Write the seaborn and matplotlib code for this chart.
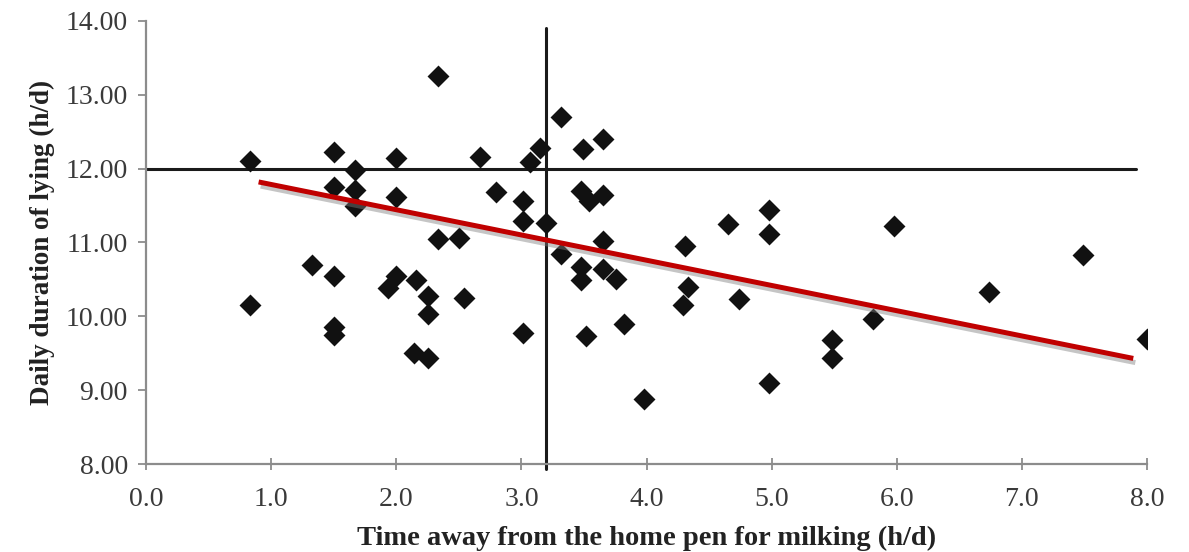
import numpy as np
import pandas as pd
import matplotlib
matplotlib.use("Agg")
import matplotlib.pyplot as plt
import matplotlib.patheffects as pe
from matplotlib.ticker import FormatStrFormatter
import seaborn as sns

# data
time_away = [0.83, 0.83, 1.33, 1.50, 1.50, 1.50, 1.50, 1.50, 1.67, 1.67,
             1.67, 1.93, 2.00, 2.00, 2.00, 2.16, 2.14, 2.25, 2.25, 2.25,
             2.33, 2.33, 2.50, 2.54, 2.67, 2.80, 3.01, 3.01, 3.01, 3.07,
             3.15, 3.20, 3.32, 3.32, 3.49, 3.48, 3.54, 3.65, 3.65, 3.65,
             3.48, 3.48, 3.65, 3.76, 3.52, 3.82, 3.98, 4.31, 4.33, 4.29,
             4.65, 4.74, 4.98, 4.98, 4.98, 5.48, 5.48, 5.81, 5.98, 6.74,
             7.49, 8.00]
lying = [12.10, 10.16, 10.70, 12.23, 11.75, 10.54, 9.86, 9.75, 11.98, 11.71,
         11.49, 10.38, 12.15, 11.61, 10.54, 10.49, 9.50, 10.27, 10.03, 9.43,
         13.26, 11.05, 11.06, 10.25, 12.16, 11.68, 11.56, 11.29, 9.78, 12.09,
         12.28, 11.26, 12.70, 10.85, 12.27, 11.70, 11.56, 11.64, 12.40, 11.02,
         10.67, 10.49, 10.64, 10.51, 9.73, 9.89, 8.88, 10.95, 10.40, 10.15,
         11.25, 10.23, 11.44, 11.11, 9.10, 9.68, 9.43, 9.97, 11.22, 10.33,
         10.83, 9.69]

# trend line end points and reference lines
trend_x = [0.90, 7.89]
trend_y = [11.82, 9.43]
ref_lying = 12.0
ref_lying_x = [0.0, 7.91]
ref_time = 3.2
ref_time_y = [7.93, 13.9]

df = pd.DataFrame({"time": time_away, "lying": lying})

sns.set_style("ticks")
plt.rcParams["font.family"] = ["Liberation Serif", "DejaVu Serif"]

fig = plt.figure(figsize=(11.89, 5.52), dpi=100)
ax = fig.add_axes([0.1228, 0.1594, 0.8419, 0.8026])

ax.plot(ref_lying_x, [ref_lying, ref_lying], color="#1a1a1a", lw=2.2, zorder=2)
ax.plot([ref_time, ref_time], ref_time_y, color="#1a1a1a", lw=2.2,
        zorder=2, clip_on=False)

sns.scatterplot(data=df, x="time", y="lying", marker="D", color="#111111",
                s=125, edgecolor="#111111", linewidth=0, ax=ax, zorder=3)

sns.lineplot(x=trend_x, y=trend_y, color="#c00000", lw=3.6, ax=ax, zorder=4,
             solid_capstyle="butt",
             path_effects=[pe.SimpleLineShadow(offset=(1.5, -3),
                                               shadow_color="gray", alpha=0.45),
                           pe.Normal()])

ax.set_xlim(0, 8)
ax.set_ylim(8, 14)
ax.set_xticks(np.arange(0, 8.1, 1.0))
ax.set_yticks(np.arange(8, 14.1, 1.0))
ax.xaxis.set_major_formatter(FormatStrFormatter("%.1f"))
ax.yaxis.set_major_formatter(FormatStrFormatter("%.2f"))

for side in ["top", "right"]:
    ax.spines[side].set_visible(False)
for side in ["left", "bottom"]:
    ax.spines[side].set_color("#8c8c8c")
    ax.spines[side].set_linewidth(1.6)

ax.tick_params(axis="y", direction="out", length=6, width=1.3,
               color="#8c8c8c", labelsize=20, labelcolor="#3a3a3a", pad=7)
ax.tick_params(axis="x", direction="inout", length=9, width=1.3,
               color="#8c8c8c", labelsize=20, labelcolor="#3a3a3a", pad=12)

ax.set_xlabel("Time away from the home pen for milking (h/d)",
              fontsize=20.5, fontweight="bold", color="#222222", labelpad=10)
ax.set_ylabel("Daily duration of lying (h/d)",
              fontsize=19.5, fontweight="bold", color="#222222", labelpad=8)

fig.savefig("out.png", dpi=100)
